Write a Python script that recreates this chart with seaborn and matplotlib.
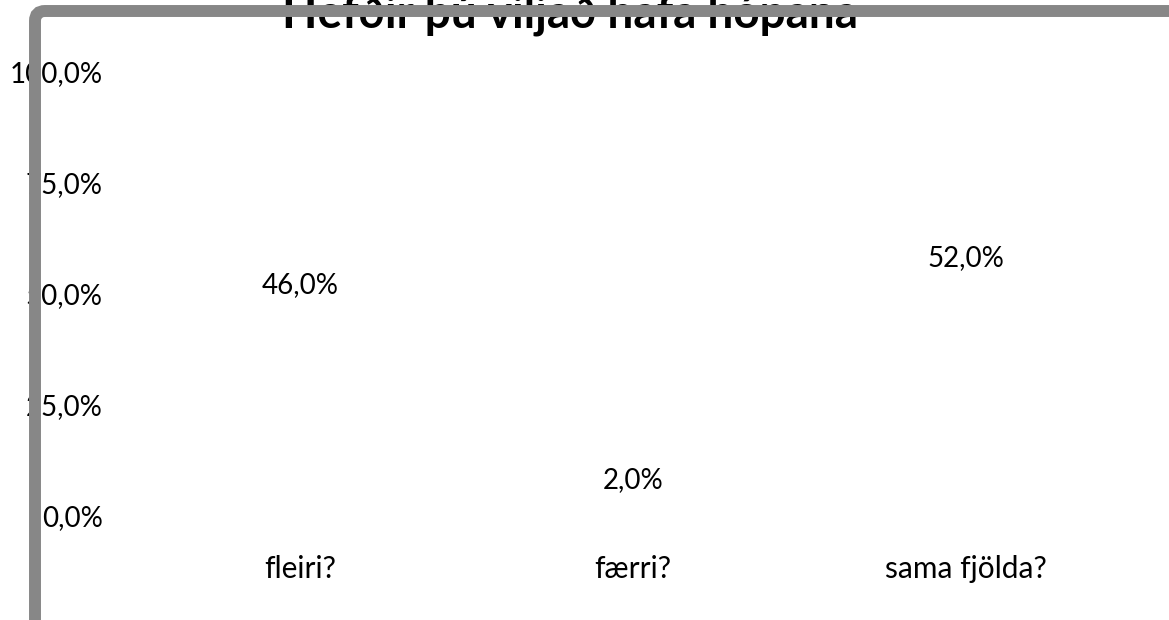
import matplotlib
matplotlib.use('Agg')
import matplotlib.pyplot as plt
from matplotlib.patches import FancyBboxPatch
from matplotlib.ticker import FuncFormatter
import pandas as pd
import seaborn as sns

# survey answers (percent)
answers = ['fleiri?', 'færri?', 'sama fjölda?']
percent = [46.0, 2.0, 52.0]
y_ticks = [0, 25, 50, 75, 100]
title = 'Hefðir þú viljað hafa hópana'

df = pd.DataFrame({'answer': answers, 'percent': percent})

sns.set_style('white')
plt.rcParams['font.family'] = ['Lato', 'DejaVu Sans']
plt.rcParams['text.color'] = 'black'
plt.rcParams['xtick.color'] = 'black'
plt.rcParams['ytick.color'] = 'black'

fig = plt.figure(figsize=(11.69, 6.2), dpi=100)
ax = fig.add_axes([0.1142, 0.1677, 0.8546, 0.7162])

# bars are white in the original, only the labels show
sns.barplot(data=df, x='answer', y='percent', color='white', ax=ax, width=0.6)

ax.set_ylim(0, 100)
ax.set_yticks(y_ticks)
ax.yaxis.set_major_formatter(FuncFormatter(lambda v, p: f'{v:.1f}%'.replace('.', ',')))
ax.set_xlabel('')
ax.set_ylabel('')
ax.tick_params(axis='y', length=0, pad=22, labelsize=20)
ax.tick_params(axis='x', length=0, pad=28, labelsize=21.5)
for s in ax.spines.values():
    s.set_visible(False)

labels = [f'{v:.1f}%'.replace('.', ',') for v in percent]
ax.bar_label(ax.containers[0], labels=labels, padding=10, fontsize=20, color='black')

fig.text(0.4876, 0.955, title, ha='center', va='baseline',
         fontsize=33, fontweight='bold', color='black', zorder=3)

# grey chart border, cut off at right and bottom
frame = FancyBboxPatch((0.35, -1.0), 12.65, 7.09,
                       boxstyle='round,pad=0,rounding_size=0.1',
                       transform=fig.dpi_scale_trans,
                       facecolor='none', edgecolor='#878787',
                       linewidth=8.6, zorder=10)
fig.patches.append(frame)

fig.savefig('out.png', dpi=100)
